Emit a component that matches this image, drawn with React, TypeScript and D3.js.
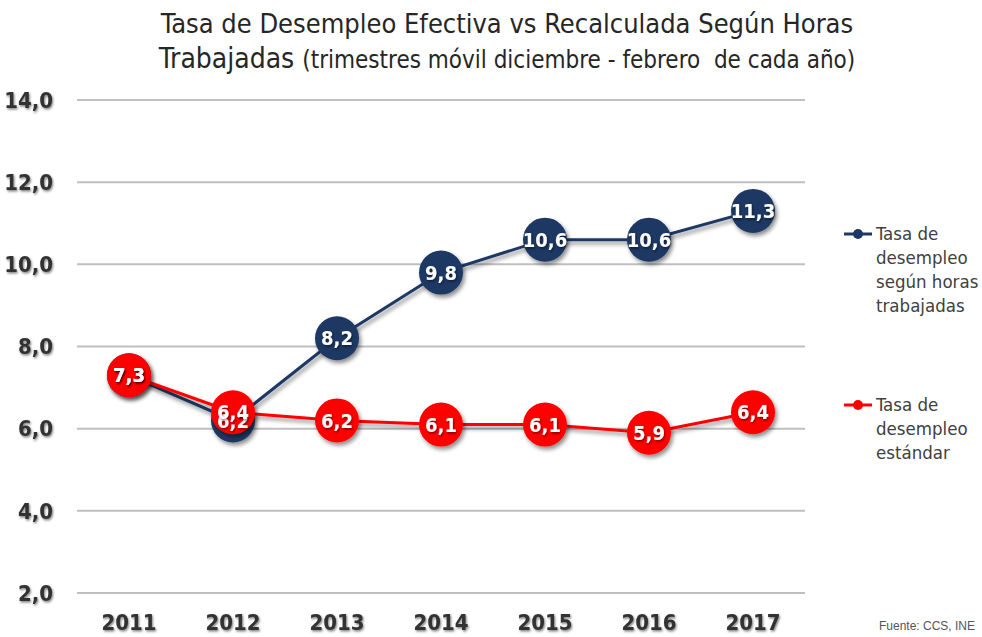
import React from "react";
import * as d3 from "d3";

const years = ["2011", "2012", "2013", "2014", "2015", "2016", "2017"];
const horasValues = [7.3, 6.2, 8.2, 9.8, 10.6, 10.6, 11.3];
const estandarValues = [7.3, 6.4, 6.2, 6.1, 6.1, 5.9, 6.4];
const yTicks = [2, 4, 6, 8, 10, 12, 14];
const legendHoras = ["Tasa de", "desempleo", "según horas", "trabajadas"];
const legendEstandar = ["Tasa de", "desempleo", "estándar"];

const W = 982;
const H = 637;
const FONT = "'DejaVu Sans Condensed', 'DejaVu Sans', sans-serif";
const BLUE = "#1d3864";
const RED = "#ff0000";

export default function App() {
  const x = d3.scaleBand<string>().domain(years).range([77, 805]);
  const y = d3.scaleLinear().domain([2, 14]).range([593, 100]);
  const cx = (d: string) => (x(d) as number) + x.bandwidth() / 2;
  const line = d3
    .line<number>()
    .x((_, i) => cx(years[i]))
    .y((v) => y(v));
  const fmt = (v: number) => v.toFixed(1).replace(".", ",");
  const series = [
    { values: horasValues, color: BLUE },
    { values: estandarValues, color: RED },
  ];
  const base = { fontFamily: FONT, fontStretch: "condensed" as const };
  return (
    <svg
      width={W}
      height={H}
      style={{ position: "absolute", left: 0, top: 0, background: "#fff" }}
    >
      <defs>
        <filter id="ds" x="-50%" y="-50%" width="200%" height="200%">
          <feDropShadow dx="2" dy="3" stdDeviation="2" floodColor="#000" floodOpacity="0.45" />
        </filter>
        <filter id="ts" x="-20%" y="-20%" width="140%" height="140%">
          <feDropShadow dx="1" dy="1.5" stdDeviation="0.8" floodColor="#000" floodOpacity="0.5" />
        </filter>
      </defs>
      <text x={507} y={33} textAnchor="middle" style={base} fontSize={27} fill="#262626">
        Tasa de Desempleo Efectiva vs Recalculada Según Horas
      </text>
      <text x={507} y={68} textAnchor="middle" style={base} fill="#262626">
        <tspan fontSize={28}>Trabajadas </tspan>
        <tspan fontSize={24}>(trimestres móvil diciembre - febrero{"\u00a0"} de cada año)</tspan>
      </text>
      {yTicks.map((t) => (
        <g key={t}>
          <line x1={77} x2={805} y1={y(t)} y2={y(t)} stroke="#bfbfbf" strokeWidth={2} />
          <text
            x={53}
            y={y(t)}
            dy="0.35em"
            textAnchor="end"
            style={base}
            fontWeight="bold"
            fontSize={22}
            fill="#333"
            filter="url(#ts)"
          >
            {fmt(t)}
          </text>
        </g>
      ))}
      {years.map((yr) => (
        <text
          key={yr}
          x={cx(yr)}
          y={630}
          textAnchor="middle"
          style={base}
          fontWeight="bold"
          fontSize={22}
          fill="#333"
          filter="url(#ts)"
        >
          {yr}
        </text>
      ))}
      {series.map((s, si) => (
        <g key={si}>
          <path d={line(s.values) || ""} fill="none" stroke={s.color} strokeWidth={3} filter="url(#ds)" />
          {s.values.map((v, i) => (
            <circle key={i} cx={cx(years[i])} cy={y(v)} r={22} fill={s.color} filter="url(#ds)" />
          ))}
        </g>
      ))}
      {series.map((s, si) =>
        s.values.map((v, i) => (
          <text
            key={si + "-" + i}
            x={cx(years[i])}
            y={y(v)}
            dy="0.36em"
            textAnchor="middle"
            style={base}
            fontWeight="bold"
            fontSize={20}
            fill="#fff"
            filter="url(#ts)"
          >
            {fmt(v)}
          </text>
        ))
      )}
      {[
        { lines: legendHoras, color: BLUE, y0: 234 },
        { lines: legendEstandar, color: RED, y0: 405 },
      ].map((l, li) => (
        <g key={li}>
          <line x1={844} x2={872} y1={l.y0} y2={l.y0} stroke={l.color} strokeWidth={3} />
          <circle cx={858} cy={l.y0} r={5} fill={l.color} />
          {l.lines.map((t, i) => (
            <text
              key={i}
              x={876}
              y={l.y0 + i * 24}
              dy="0.35em"
              style={base}
              fontSize={18.5}
              fill="#404040"
            >
              {t}
            </text>
          ))}
        </g>
      ))}
      <text x={975} y={630} textAnchor="end" fontFamily="Arial, 'Liberation Sans', sans-serif" fontSize={12} fill="#555">
        Fuente: CCS, INE
      </text>
    </svg>
  );
}
